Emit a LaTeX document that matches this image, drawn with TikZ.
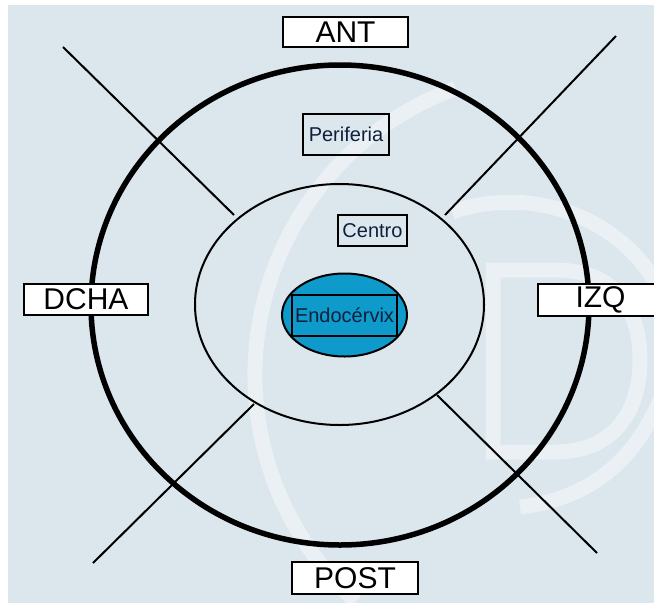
\documentclass[tikz,border=0pt]{standalone}
\usepackage{fontspec}
\setmainfont{Liberation Sans}
\usetikzlibrary{shapes.geometric}
\definecolor{bgblue}{HTML}{DCE6ED}
\definecolor{cervixblue}{HTML}{0E9BCC}
\definecolor{inknavy}{HTML}{10203A}
\tikzset{
  tagbox/.style={draw=black, line width=1.6pt, fill=white, inner sep=0pt,
    font=\fontsize{30}{31}\selectfont, text=black},
  zonebox/.style={draw=black, line width=1.6pt, inner sep=0pt,
    font=\fontsize{20}{21}\selectfont, text=inknavy},
  ring/.style={draw=black, ellipse, inner sep=0pt},
  sector/.style={draw=black, line width=2pt},
  mark stroke/.style={white, opacity=0.4, line width=15pt},
}
\begin{document}
\begin{tikzpicture}[x=1pt,y=-1pt]
\useasboundingbox (0,0) rectangle (654,603);
\fill[white] (0,0) rectangle (654,603);
\fill[bgblue] (8,5) rectangle (654,603);

% faint logo in the background
\begin{scope}[mark stroke]
  \draw (560,375) ++(250:305) arc[start angle=250, end angle=132, radius=305];
  \draw (493,270) -- (493,452) -- (555,452)
        .. controls (615,452) and (640,410) .. (640,360)
        .. controls (640,305) and (612,270) .. (555,270) -- cycle;
  \draw (452,212) .. controls (530,185) and (620,215) .. (660,290);
  \draw (520,507) .. controls (580,500) and (630,470) .. (660,400);
\end{scope}

% cervix zones
\node[ring, line width=5.5pt, minimum width=498pt, minimum height=480pt] (outer) at (340,305) {};
\node[ring, line width=2pt, minimum width=289pt, minimum height=241pt] (inner) at (339.5,304.5) {};

% quadrant separators
\coordinate (ul1) at (63,47);   \coordinate (ul2) at (234,215);
\coordinate (ur1) at (616,36);  \coordinate (ur2) at (445,215);
\coordinate (ll1) at (254,404); \coordinate (ll2) at (93,563);
\coordinate (lr1) at (437,395); \coordinate (lr2) at (597,553);
\draw[sector] (ul1) -- (ul2);
\draw[sector] (ur1) -- (ur2);
\draw[sector] (ll1) -- (ll2);
\draw[sector] (lr1) -- (lr2);

% endocervix
\node[ring, line width=2pt, fill=cervixblue, minimum width=125pt, minimum height=83pt] (endo) at (344.5,315) {};
\node[zonebox, minimum width=105pt, minimum height=41pt] (endolabel) at (344.5,315.5) {Endocérvix};

% zone labels
\node[zonebox, minimum width=86pt, minimum height=41pt] (periferia) at (346,134.5) {Periferia};
\node[zonebox, minimum width=69pt, minimum height=31pt] (centro) at (372.5,230.5) {Centro};

% orientation labels
\node[tagbox, minimum width=125pt, minimum height=30pt] (ant) at (345.5,32) {ANT};
\node[tagbox, minimum width=126pt, minimum height=32pt] (post) at (355,578) {POST};
\node[tagbox, minimum width=124pt, minimum height=31pt] (dcha) at (86,299.5) {DCHA};
\node[tagbox, minimum width=125pt, minimum height=32pt] (izq) at (600.5,300) {IZQ};
\end{tikzpicture}
\end{document}
